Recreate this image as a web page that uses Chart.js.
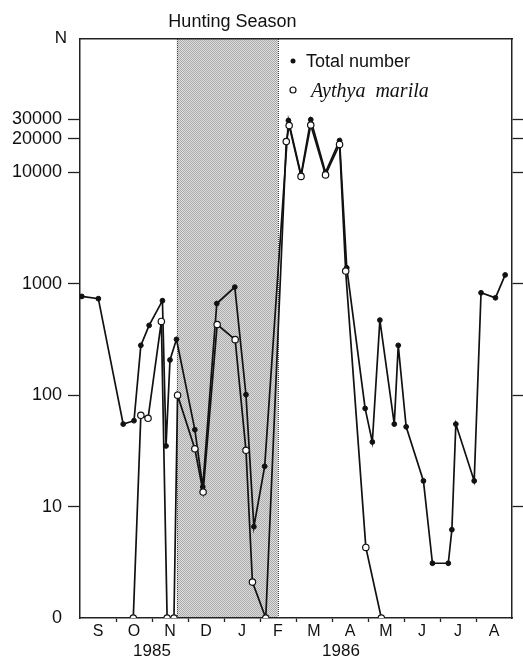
<!DOCTYPE html>
<html>
<head>
<meta charset="utf-8">
<script src="https://cdn.jsdelivr.net/npm/chart.js@4.4.0/dist/chart.umd.min.js"></script>
<style>
  html, body { margin: 0; padding: 0; background: #fff; }
  #wrap { width: 523px; height: 659px; position: relative; }
</style>
</head>
<body>
<div id="wrap"><canvas id="duckChart"></canvas></div>
<script>
var monthLabels = ['S', 'O', 'N', 'D', 'J', 'F', 'M', 'A', 'M', 'J', 'J', 'A'];
var yTicks = [1, 10, 100, 1000, 10000, 20000, 30000];

// x = months since 1 Sept 1985
var totalMonths = [0.05, 0.51, 1.20, 1.50, 1.69, 1.92, 2.29, 2.39, 2.50, 2.68, 3.19, 3.41, 3.80, 4.30, 4.61, 4.83, 5.13,
    5.79, 6.14, 6.41, 6.82, 7.21, 7.41, 7.92, 8.12, 8.33, 8.73, 8.84, 9.06, 9.54, 9.79, 10.23, 10.33, 10.44, 10.95, 11.14, 11.54, 11.81];
var totalCounts = [770, 735, 55, 59, 280, 423, 705, 35, 207, 317, 49, 15, 665, 933, 101, 6.6, 23,
    29200, 9500, 29700, 10000, 19300, 1390, 76, 38, 472, 55, 280, 52, 17, 3.1, 3.1, 6.2, 55, 17, 830, 748, 1200];

var aythyaMonths = [1.48, 1.69, 1.89, 2.26, 2.42, 2.61, 2.71, 3.19, 3.42, 3.81, 4.31, 4.61, 4.79, 5.16,
    5.73, 5.81, 6.14, 6.41, 6.82, 7.21, 7.38, 7.94, 8.37];
var aythyaCounts = [0, 66, 62, 459, 0, 0, 100, 33, 13.5, 431, 315, 32, 2.1, 0,
    18900, 26300, 9200, 26600, 9480, 17800, 1300, 4.3, 0];

var huntingStart = 2.69;
var huntingEnd = 5.5;
var yMax = 157400;

var sansFont = '"Liberation Sans", Arial, sans-serif';

// 0 counts sit on the bottom line (drawn at 1 on the log axis)
function toPoints(months, counts) {
    return months.map(function (m, i) {
        return { x: m, y: counts[i] > 0 ? counts[i] : 1 };
    });
}

function setYTicks(scale) {
    scale.ticks = yTicks.map(function (v) { return { value: v }; });
}

var shadePattern = (function () {
    var c = document.createElement('canvas');
    c.width = 2; c.height = 2;
    var g = c.getContext('2d');
    g.fillStyle = '#dcdcdc'; g.fillRect(0, 0, 2, 2);
    g.fillStyle = '#acacac'; g.fillRect(0, 0, 1, 1); g.fillRect(1, 1, 1, 1);
    return g.createPattern(c, 'repeat');
})();

var decorPlugin = {
    id: 'decor',
    beforeDraw: function (chart) {
        var ctx = chart.ctx, area = chart.chartArea, x = chart.scales.x;
        var x0 = x.getPixelForValue(huntingStart), x1 = x.getPixelForValue(huntingEnd);
        ctx.save();
        ctx.fillStyle = '#fff';
        ctx.fillRect(0, 0, chart.width, chart.height);
        ctx.fillStyle = shadePattern;
        ctx.fillRect(x0, area.top, x1 - x0, area.bottom - area.top);
        ctx.strokeStyle = '#444';
        ctx.lineWidth = 1;
        ctx.setLineDash([1, 1]);
        ctx.beginPath();
        ctx.moveTo(Math.round(x0) + 0.5, area.top); ctx.lineTo(Math.round(x0) + 0.5, area.bottom);
        ctx.moveTo(Math.round(x1) + 0.5, area.top); ctx.lineTo(Math.round(x1) + 0.5, area.bottom);
        ctx.stroke();
        ctx.restore();
    },
    afterDraw: function (chart) {
        var ctx = chart.ctx, x = chart.scales.x;
        ctx.save();
        ctx.fillStyle = '#111';
        ctx.textAlign = 'center';
        ctx.textBaseline = 'alphabetic';
        ctx.font = '18px ' + sansFont;
        ctx.fillText('Hunting Season', (x.getPixelForValue(huntingStart) + x.getPixelForValue(huntingEnd)) / 2 + 5, 27);
        ctx.font = '17px ' + sansFont;
        ctx.fillText('N', 61, 43);
        ctx.fillText('1985', x.getPixelForValue(2.0), 656);
        ctx.fillText('1986', x.getPixelForValue(7.25), 656);

        // legend
        ctx.textAlign = 'left';
        ctx.font = '18px ' + sansFont;
        ctx.fillText('Total number', 306, 67);
        ctx.beginPath(); ctx.arc(293, 61, 2.5, 0, Math.PI * 2); ctx.fill();
        ctx.font = 'italic 20px "Liberation Serif", "Times New Roman", serif';
        ctx.fillText('Aythya  marila', 311, 97);
        ctx.beginPath(); ctx.arc(293, 90, 3, 0, Math.PI * 2);
        ctx.fillStyle = '#fff'; ctx.fill();
        ctx.strokeStyle = '#111'; ctx.lineWidth = 1.2; ctx.stroke();
        ctx.restore();
    }
};

var frameBorder = { color: '#222', width: 1.5 };

new Chart(document.getElementById('duckChart'), {
    type: 'line',
    data: {
        datasets: [
            {
                label: 'Aythya marila',
                data: toPoints(aythyaMonths, aythyaCounts),
                borderColor: '#111',
                borderWidth: 1.7,
                pointRadius: 3.2,
                pointBackgroundColor: '#fff',
                pointBorderColor: '#111',
                pointBorderWidth: 1.2,
                tension: 0,
                order: 0
            },
            {
                label: 'Total number',
                data: toPoints(totalMonths, totalCounts),
                borderColor: '#111',
                borderWidth: 1.7,
                pointRadius: 2.4,
                pointBackgroundColor: '#111',
                pointBorderColor: '#111',
                pointBorderWidth: 1,
                tension: 0,
                order: 1
            }
        ]
    },
    options: {
        responsive: true,
        maintainAspectRatio: false,
        animation: false,
        layout: { padding: { top: 39, left: 0, right: 0, bottom: 0 } },
        plugins: {
            legend: { display: false },
            tooltip: { enabled: false }
        },
        scales: {
            x: {
                type: 'linear',
                position: 'bottom',
                min: 0,
                max: 12,
                afterBuildTicks: function (scale) {
                    var t = [];
                    for (var i = 0; i <= 24; i++) t.push({ value: i / 2 });
                    scale.ticks = t;
                },
                ticks: {
                    autoSkip: false,
                    maxRotation: 0,
                    padding: 0,
                    color: '#111',
                    font: { family: sansFont, size: 16 },
                    callback: function (v) {
                        var i = Math.floor(v);
                        return v - i === 0.5 ? monthLabels[i] : '';
                    }
                },
                grid: {
                    drawOnChartArea: false,
                    tickLength: 4,
                    tickWidth: 1.3,
                    tickColor: function (c) {
                        var v = c.tick ? c.tick.value : 0;
                        return (v % 1 === 0 && v > 0 && v < 12) ? '#222' : 'rgba(0,0,0,0)';
                    }
                },
                border: frameBorder,
                afterFit: function (scale) { scale.height = 41; }
            },
            x2: {
                type: 'linear',
                position: 'top',
                min: 0,
                max: 12,
                ticks: { display: false },
                grid: { drawOnChartArea: false, drawTicks: false },
                border: frameBorder,
                afterFit: function (scale) { scale.height = 0; }
            },
            y: {
                type: 'logarithmic',
                position: 'left',
                min: 1,
                max: yMax,
                afterBuildTicks: setYTicks,
                ticks: {
                    padding: 6,
                    color: '#111',
                    font: { family: sansFont, size: 18 },
                    callback: function (v) { return v === 1 ? '0' : String(v); }
                },
                grid: {
                    drawOnChartArea: false,
                    tickLength: 12,
                    tickWidth: 1.3,
                    tickColor: function (c) {
                        return c.tick && c.tick.value === 1 ? 'rgba(0,0,0,0)' : '#222';
                    }
                },
                border: frameBorder,
                afterFit: function (scale) { scale.width = 80; }
            },
            y2: {
                type: 'logarithmic',
                position: 'right',
                min: 1,
                max: yMax,
                afterBuildTicks: setYTicks,
                ticks: { display: false },
                grid: {
                    drawOnChartArea: false,
                    tickLength: 12,
                    tickWidth: 1.3,
                    tickColor: function (c) {
                        return c.tick && c.tick.value === 1 ? 'rgba(0,0,0,0)' : '#222';
                    }
                },
                border: frameBorder,
                afterFit: function (scale) { scale.width = 11; }
            }
        }
    },
    plugins: [decorPlugin]
});
</script>
</body>
</html>
